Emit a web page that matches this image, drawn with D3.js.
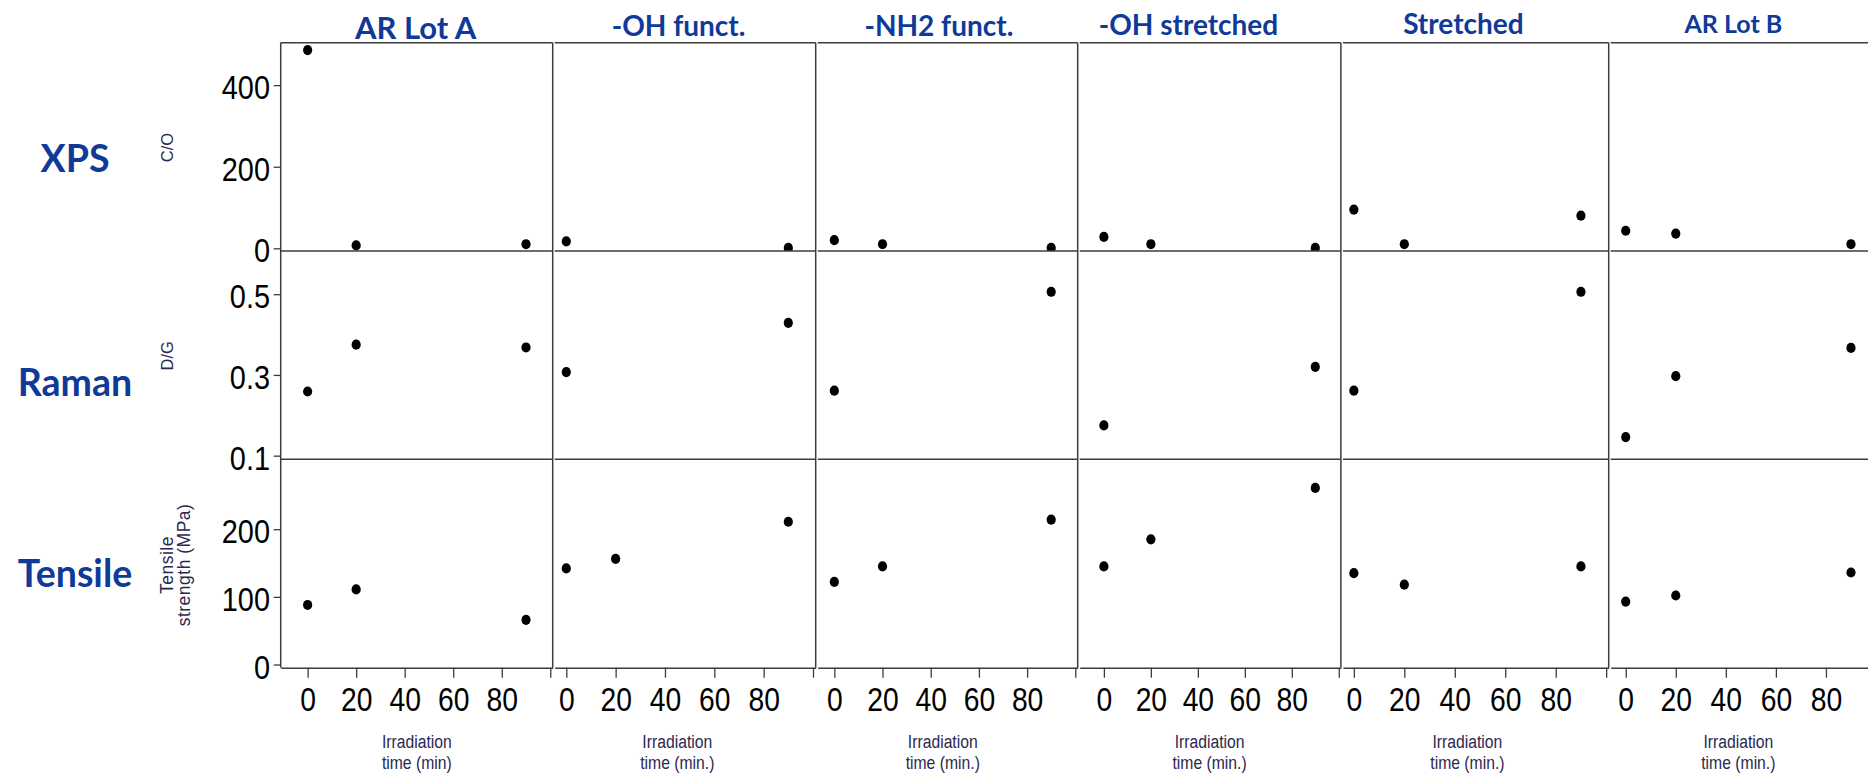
<!DOCTYPE html>
<html>
<head>
<meta charset="utf-8">
<script src="https://cdn.jsdelivr.net/npm/d3@7"></script>
<style>
  body { margin: 0; background: #fff; }
  svg text { font-family: "Liberation Sans", Arial, sans-serif; }
  .head { font-family: Lato, "Open Sans", sans-serif; font-weight: 700; fill: #0f3a98; }
  .atitle { fill: #2c2850; }
</style>
</head>
<body>
<div id="chart"></div>
<script>
// ---- data ----
const samples = ['AR Lot A', '-OH funct.', '-NH2 funct.', '-OH stretched', 'Stretched', 'AR Lot B'];
const rows = ['XPS', 'Raman', 'Tensile'];
const times = [0, 20, 90];

// one array per sample, values at times 0 / 20 / 90 min (null = not measured)
const xpsCO = [[486, 7, 10], [17, null, 1], [20, 10, 1], [28, 10, 1], [95, 10, 80], [43, 36, 10]];
const ramanDG = [[0.259, 0.375, 0.368], [0.307, null, 0.429], [0.261, null, 0.506],
                 [0.175, null, 0.320], [0.261, null, 0.506], [0.146, 0.297, 0.367]];
const tensileMPa = [[88, 111, 66], [142, 156, 211], [122, 145, 214], [145, 185, 261], [135, 118, 145], [93, 102, 136]];

const yTitles = [['C/O'], ['D/G'], ['Tensile', 'strength (MPa)']];
const xTitles = ['time (min)', 'time (min.)', 'time (min.)', 'time (min.)', 'time (min.)', 'time (min.)'];

// axis ranges and ticks
const yDomains = [[-6.6, 504], [0.091, 0.607], [-4.7, 303.3]];
const yMajor = [[0, 200, 400], [0.1, 0.3, 0.5], [0, 100, 200]];
const yMinor = [[50, 100, 150, 250, 300, 350, 450], [0.2, 0.4], [25, 50, 75, 125, 150, 175, 225, 250, 275]];
const yFormats = ['d', '.1f', 'd'];
const xDomains = [[-11.1, 101], [-4.7, 101.1], [-6.9, 101], [-10.3, 100.9], [-4.3, 101], [-6, 96.8]];
const xMajor = [0, 20, 40, 60, 80, 100];
const xMinor = [-10, 10, 30, 50, 70, 90];
const xLabels = [0, 20, 40, 60, 80];

// ---- layout ----
const W = 1868, H = 773;
const panelX = [[280.7, 552.7], [554.7, 815.7], [817.7, 1077.7], [1079.7, 1340.9], [1343, 1608.7], [1610.7, 1868]];
const rowY = [[42.7, 251], [251, 459.3], [459.3, 667.7]];
const rowLabelY = [171.7, 396, 587.3];
const headAt = [44.5, 45.5, 43.4, 36, 43.4, 43];
const headSize = [31, 28, 28, 28, 28, 25];
const headY = [39.3, 36, 36, 35, 34.3, 33.3];
const lineColor = '#3c3c3c';
const series = [xpsCO, ramanDG, tensileMPa];

const svg = d3.select('#chart').append('svg').attr('width', W).attr('height', H);
const defs = svg.append('defs');

// row labels
svg.selectAll('text.rowlab').data(rows).enter().append('text')
  .attr('class', 'head rowlab')
  .attr('x', 75).attr('y', (d, i) => rowLabelY[i])
  .attr('text-anchor', 'middle')
  .style('font-size', '37.5px')
  .text(d => d);

// y axis titles (rotated)
const yt = svg.selectAll('text.ytitle').data(yTitles).enter().append('text')
  .attr('class', 'atitle ytitle')
  .attr('text-anchor', 'middle')
  .attr('transform', (d, i) => `translate(173,${[147.5, 355.8, 565][i]}) rotate(-90)`)
  .style('font-size', (d, i) => i === 2 ? '17.5px' : '16.5px')
  .style('letter-spacing', (d, i) => i === 2 ? '0.5px' : '0px');
yt.selectAll('tspan').data(d => d).enter().append('tspan')
  .attr('x', 0).attr('y', (d, i) => i * 17)
  .text(d => d);

samples.forEach((name, c) => {
  const [x0, x1] = panelX[c];
  const x = d3.scaleLinear().domain(xDomains[c]).range([x0, x1]);
  const inDom = v => v >= xDomains[c][0] && v <= xDomains[c][1];

  // column heading
  svg.append('text').attr('class', 'head')
    .attr('x', x(headAt[c])).attr('y', headY[c])
    .attr('text-anchor', 'middle')
    .style('font-size', headSize[c] + 'px')
    .text(name);

  rows.forEach((row, r) => {
    const [y0, y1] = rowY[r];
    const y = d3.scaleLinear().domain(yDomains[r]).range([y1, y0]);
    const id = `clip-${r}-${c}`;
    defs.append('clipPath').attr('id', id).append('rect')
      .attr('x', x0).attr('y', y0).attr('width', x1 - x0).attr('height', y1 - y0);

    const pts = times.map((t, i) => ({t, v: series[r][c][i]})).filter(d => d.v != null);
    svg.append('g').attr('clip-path', `url(#${id})`)
      .selectAll('ellipse').data(pts).enter().append('ellipse')
      .attr('cx', d => x(d.t)).attr('cy', d => y(d.v))
      .attr('rx', 4.6).attr('ry', 5.1)
      .attr('fill', '#000');

    // top frame line of this cell
    svg.append('line').attr('x1', x0).attr('x2', x1).attr('y1', y0).attr('y2', y0)
      .attr('stroke', lineColor).attr('stroke-width', 1.5);

    if (c === 0) {
      const g = svg.append('g').attr('transform', `translate(${x0},0)`);
      g.call(d3.axisLeft(y).tickValues(yMinor[r]).tickSize(4).tickFormat(''));
      g.call(d3.axisLeft(y).tickValues(yMajor[r]).tickSize(7).tickFormat(d3.format(yFormats[r])));
      g.select('.domain').remove();
      g.selectAll('line').attr('stroke', lineColor).attr('stroke-width', 1.3);
      g.selectAll('text')
        .attr('x', 0).attr('dy', '0.4em')
        .attr('transform', 'translate(-10.7,0) scale(0.85,1)')
        .attr('fill', '#000')
        .style('font-size', '34px').style('font-family', '"Liberation Sans", Arial, sans-serif');
    }
  });

  // right border, and left border for the first panel
  const bottom = rowY[2][1];
  if (c === 0) {
    svg.append('line').attr('x1', x0).attr('x2', x0).attr('y1', rowY[0][0]).attr('y2', bottom)
      .attr('stroke', lineColor).attr('stroke-width', 1.5);
  }
  if (x1 < W) {
    svg.append('line').attr('x1', x1).attr('x2', x1).attr('y1', rowY[0][0]).attr('y2', bottom)
      .attr('stroke', lineColor).attr('stroke-width', 1.5);
  }

  // x axis
  const gx = svg.append('g').attr('transform', `translate(0,${bottom})`);
  gx.call(d3.axisBottom(x).tickValues(xMinor.filter(inDom)).tickSize(6).tickSizeOuter(0).tickFormat(''));
  gx.call(d3.axisBottom(x).tickValues(xMajor.filter(inDom)).tickSize(10).tickSizeOuter(0)
    .tickFormat(d => xLabels.includes(d) ? d : ''));
  gx.select('.domain').attr('stroke', lineColor).attr('stroke-width', 1.5);
  gx.selectAll('line').attr('stroke', lineColor).attr('stroke-width', 1.3);
  gx.selectAll('text')
    .attr('y', 20.6)
    .attr('transform', 'scale(0.87,1)')
    .attr('fill', '#000')
    .style('font-size', '32.5px').style('font-family', '"Liberation Sans", Arial, sans-serif');

  // x axis title
  const xt = svg.append('text').attr('class', 'atitle')
    .attr('text-anchor', 'middle')
    .attr('transform', `translate(${x(45)},0) scale(0.85,1)`)
    .style('font-size', '18.5px');
  xt.append('tspan').attr('x', 0).attr('y', 748.3).text('Irradiation');
  xt.append('tspan').attr('x', 0).attr('y', 769).text(xTitles[c]);
});
</script>
</body>
</html>
